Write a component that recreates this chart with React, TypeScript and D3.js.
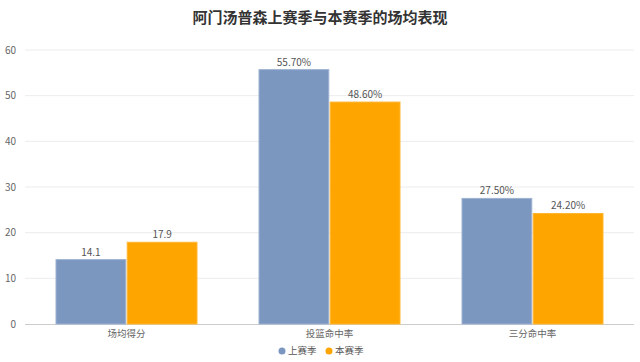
import { useEffect, useRef } from 'react';
import * as d3 from 'd3';

const title = '阿门汤普森上赛季与本赛季的场均表现';
const categories = ['场均得分', '投篮命中率', '三分命中率'];
const seriesNames = ['上赛季', '本赛季'];
const lastSeason = [14.1, 55.7, 27.5];
const thisSeason = [17.9, 48.6, 24.2];
const valueLabels = [
  ['14.1', '55.70%', '27.50%'],
  ['17.9', '48.60%', '24.20%'],
];
const yTicks = [0, 10, 20, 30, 40, 50, 60];
const colors = ['#7b97c0', '#ffa500'];

const width = 640;
const height = 362;

const App = () => {
  const svgRef = useRef<SVGSVGElement>(null);

  useEffect(() => {
    if (!svgRef.current) return;
    const svg = d3.select(svgRef.current);
    svg.selectAll('*').remove();

    const font = '"Noto Sans CJK SC", "Noto Sans", sans-serif';
    const margin = { top: 50, right: 6, bottom: 38, left: 25 };
    const innerW = width - margin.left - margin.right;
    const innerH = height - margin.top - margin.bottom;

    const g = svg.append('g').attr('transform', `translate(${margin.left},${margin.top})`);

    const x0 = d3.scaleBand().domain(categories).range([0, innerW]).paddingInner(0).paddingOuter(0);
    const x1 = d3.scaleBand().domain(seriesNames).range([31, x0.bandwidth() - 31]).paddingInner(0.02);
    const y = d3.scaleLinear().domain([0, 60]).range([innerH, 0]);

    // Title
    svg.append('text')
      .attr('x', width / 2)
      .attr('y', 23)
      .attr('text-anchor', 'middle')
      .style('font-family', font)
      .style('font-size', '15px')
      .style('font-weight', 700)
      .style('fill', '#333')
      .text(title);

    // Grid
    g.selectAll('.grid')
      .data(yTicks.filter(t => t > 0))
      .join('line')
      .attr('x1', 0)
      .attr('x2', innerW)
      .attr('y1', d => y(d))
      .attr('y2', d => y(d))
      .attr('stroke', '#ececec')
      .attr('stroke-width', 1);

    g.append('line')
      .attr('x1', 0)
      .attr('x2', innerW)
      .attr('y1', y(0) + 0.5)
      .attr('y2', y(0) + 0.5)
      .attr('stroke', '#cccccc');

    g.selectAll('.ytick')
      .data(yTicks)
      .join('text')
      .attr('x', -9)
      .attr('y', d => y(d))
      .attr('dy', '0.35em')
      .attr('text-anchor', 'end')
      .style('font-family', font)
      .style('font-size', '10px')
      .style('fill', '#666')
      .text(d => d);

    const series = [lastSeason, thisSeason];
    series.forEach((vals, si) => {
      const name = seriesNames[si];
      g.selectAll(`.bar-${si}`)
        .data(vals)
        .join('rect')
        .attr('x', (d, i) => (x0(categories[i]) || 0) + (x1(name) || 0))
        .attr('y', d => y(d))
        .attr('width', x1.bandwidth())
        .attr('height', d => y(0) - y(d))
        .attr('fill', colors[si])
        .attr('stroke', si === 0 ? '#9db2d1' : '#ffb733')
        .attr('stroke-width', 1);

      g.selectAll(`.lbl-${si}`)
        .data(vals)
        .join('text')
        .attr('x', (d, i) => (x0(categories[i]) || 0) + (x1(name) || 0) + x1.bandwidth() / 2)
        .attr('y', d => y(d) - 4)
        .attr('text-anchor', 'middle')
        .style('font-family', font)
        .style('font-size', '10px')
        .style('fill', '#555')
        .text((d, i) => valueLabels[si][i]);
    });

    // X labels
    g.selectAll('.xlabel')
      .data(categories)
      .join('text')
      .attr('x', d => (x0(d) || 0) + x0.bandwidth() / 2)
      .attr('y', innerH + 13)
      .attr('text-anchor', 'middle')
      .style('font-family', font)
      .style('font-size', '9.5px')
      .style('fill', '#666')
      .text(d => d);

    // Legend
    const legend = svg.append('g').attr('transform', 'translate(282,351)');
    seriesNames.forEach((name, i) => {
      const lg = legend.append('g').attr('transform', `translate(${i * 47},0)`);
      lg.append('circle').attr('cx', 0).attr('cy', 0).attr('r', 3.5).attr('fill', colors[i]);
      lg.append('text')
        .attr('x', 6)
        .attr('y', 0)
        .attr('dy', '0.35em')
        .style('font-family', font)
        .style('font-size', '9.5px')
        .style('fill', '#555')
        .text(name);
    });
  }, []);

  return (
    <svg
      ref={svgRef}
      width={width}
      height={height}
      style={{ position: 'absolute', left: 0, top: 0, background: '#fff' }}
    />
  );
};

export default App;
